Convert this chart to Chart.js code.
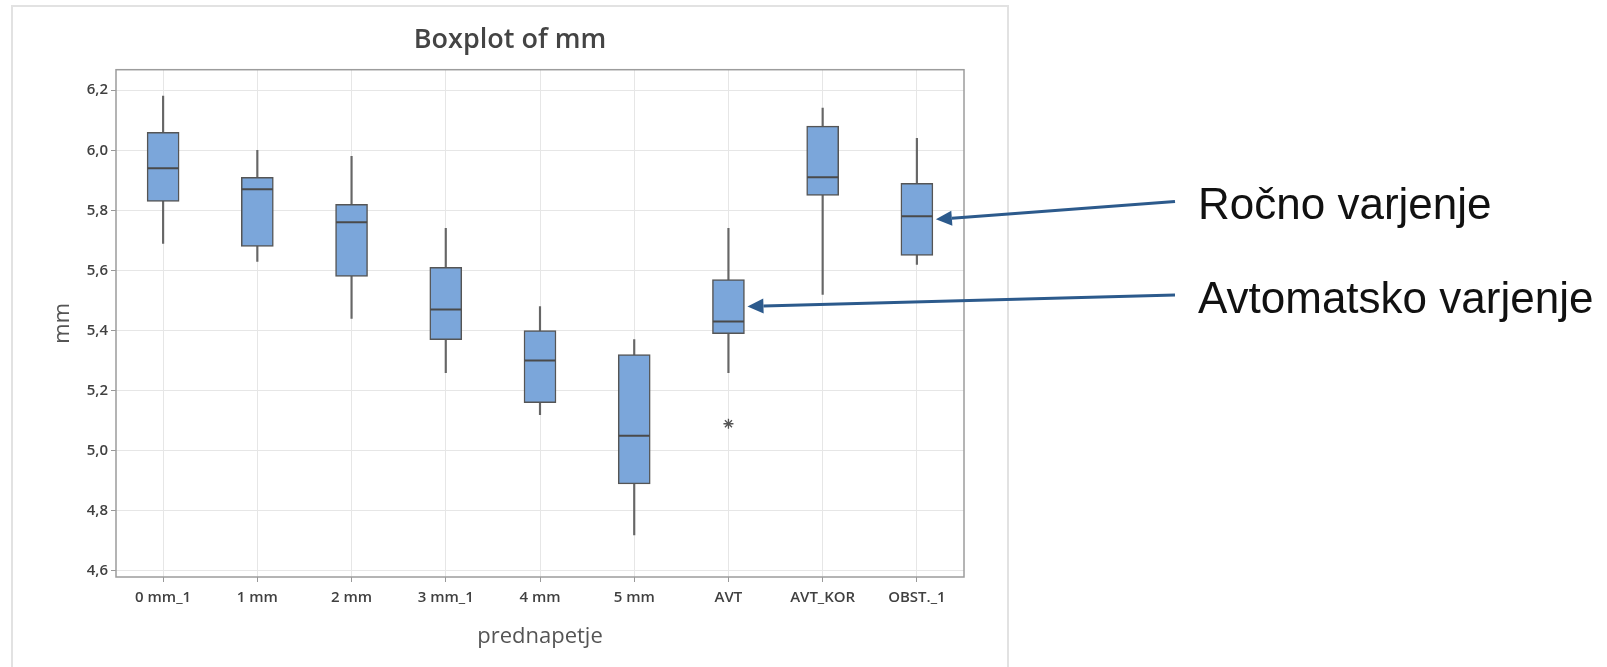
<!DOCTYPE html>
<html>
<head>
<meta charset="utf-8">
<title>Boxplot of mm</title>
<script src="https://cdn.jsdelivr.net/npm/chart.js@4.4.1/dist/chart.umd.min.js"></script>
<style>
  html, body { margin: 0; padding: 0; background: #fff; }
  canvas { display: block; }
</style>
</head>
<body>
<canvas id="boxplot" width="1607" height="667"></canvas>
<script>
// values
const categories = ['0 mm_1', '1 mm', '2 mm', '3 mm_1', '4 mm', '5 mm', 'AVT', 'AVT_KOR', 'OBST._1'];
const whiskerLow  = [5.69, 5.63, 5.44, 5.26, 5.12, 4.72, 5.26, 5.52, 5.62];
const q1          = [5.83, 5.68, 5.58, 5.37, 5.16, 4.89, 5.39, 5.85, 5.65];
const median      = [5.94, 5.87, 5.76, 5.47, 5.30, 5.05, 5.43, 5.91, 5.78];
const q3          = [6.06, 5.91, 5.82, 5.61, 5.40, 5.32, 5.57, 6.08, 5.89];
const whiskerHigh = [6.18, 6.00, 5.98, 5.74, 5.48, 5.37, 5.74, 6.14, 6.04];
const outliers    = [null, null, null, null, null, null, 5.09, null, null];
const yTicks = [4.6, 4.8, 5.0, 5.2, 5.4, 5.6, 5.8, 6.0, 6.2];

// side notes with arrows pointing at a box
const noteLabels  = ['Ročno varjenje', 'Avtomatsko varjenje'];
const noteTargets = ['OBST._1', 'AVT'];

const boxFill = '#7BA6DA';
const boxLine = '#555555';
const arrowBlue = '#2C5A8C';
const BOX_W = 32;

const tickFont = { family: "'Open Sans', sans-serif", size: 15, weight: '600' };
const titleFont = { family: "'Open Sans', sans-serif", size: 22 };

// light outer frame + plot frame
const frames = {
  id: 'frames',
  beforeDraw(chart) {
    const ctx = chart.ctx;
    ctx.save();
    ctx.fillStyle = '#fff';
    ctx.fillRect(0, 0, chart.width, chart.height);
    ctx.strokeStyle = '#e2e2e2';
    ctx.lineWidth = 2;
    ctx.strokeRect(12, 6, 996, 700);
    ctx.restore();
  },
  afterDatasetsDraw(chart) {
    const { ctx, chartArea: a } = chart;
    ctx.save();
    ctx.strokeStyle = '#9c9c9c';
    ctx.lineWidth = 1.5;
    ctx.strokeRect(a.left, a.top, a.right - a.left, a.bottom - a.top);
    ctx.restore();
  }
};

// arrows + labels on the right
const notes = {
  id: 'notes',
  afterDraw(chart) {
    const ctx = chart.ctx;
    const xs = chart.scales.x, ys = chart.scales.y;
    const tails = [[1175, 201.5], [1175, 295]];
    const baselines = [219, 312.5];
    ctx.save();
    noteLabels.forEach((label, i) => {
      const idx = categories.indexOf(noteTargets[i]);
      const tipX = xs.getPixelForValue(idx) + BOX_W / 2 + 3;
      const tipY = ys.getPixelForValue((q1[idx] + q3[idx]) / 2);
      const [tx, ty] = tails[i];
      const ang = Math.atan2(ty - tipY, tx - tipX);
      const headLen = 16, headHalf = 7.5;
      const bx = tipX + Math.cos(ang) * headLen, by = tipY + Math.sin(ang) * headLen;

      ctx.strokeStyle = arrowBlue;
      ctx.lineWidth = 3;
      ctx.beginPath();
      ctx.moveTo(tx, ty);
      ctx.lineTo(bx, by);
      ctx.stroke();

      ctx.fillStyle = arrowBlue;
      ctx.beginPath();
      ctx.moveTo(tipX, tipY);
      ctx.lineTo(bx - Math.sin(ang) * headHalf, by + Math.cos(ang) * headHalf);
      ctx.lineTo(bx + Math.sin(ang) * headHalf, by - Math.cos(ang) * headHalf);
      ctx.closePath();
      ctx.fill();

      ctx.fillStyle = '#111';
      ctx.font = "44px 'Liberation Sans', Arial, sans-serif";
      ctx.textBaseline = 'alphabetic';
      ctx.textAlign = 'left';
      ctx.fillText(label, 1198, baselines[i]);
    });
    ctx.restore();
  }
};

new Chart(document.getElementById('boxplot'), {
  type: 'bar',
  data: {
    labels: categories,
    datasets: [
      {
        label: 'median',
        type: 'line',
        data: median,
        showLine: false,
        pointStyle: 'line',
        pointRadius: BOX_W / 2 - 0.5,
        pointHoverRadius: BOX_W / 2 - 0.5,
        pointBorderWidth: 2,
        pointBorderColor: '#4a4a4a',
        order: 0
      },
      {
        label: 'outlier',
        type: 'line',
        data: outliers,
        showLine: false,
        pointStyle: 'star',
        pointRadius: 5,
        pointBorderWidth: 1.3,
        pointBorderColor: '#555',
        order: 0
      },
      {
        label: 'box',
        data: q1.map((v, i) => [v, q3[i]]),
        backgroundColor: boxFill,
        borderColor: boxLine,
        borderWidth: 1.5,
        borderSkipped: false,
        barThickness: BOX_W,
        grouped: false,
        order: 1
      },
      {
        label: 'whisker',
        data: whiskerLow.map((v, i) => [v, whiskerHigh[i]]),
        backgroundColor: '#666666',
        borderWidth: 0,
        barThickness: 1.5,
        grouped: false,
        order: 2
      }
    ]
  },
  options: {
    responsive: false,
    animation: false,
    layout: { padding: { left: 12, right: 599, top: 0, bottom: 0 } },
    plugins: {
      legend: { display: false },
      tooltip: { enabled: false },
      title: {
        display: true,
        text: 'Boxplot of mm',
        color: '#444',
        font: { family: "'Open Sans', sans-serif", size: 27, weight: '600' },
        padding: { top: 24, bottom: 13.3 }
      }
    },
    scales: {
      x: {
        grid: { offset: false, color: '#e6e6e6', tickColor: '#999', tickLength: 5 },
        border: { display: false },
        ticks: { color: '#404040', font: tickFont, padding: 7, maxRotation: 0 },
        title: { display: true, text: 'prednapetje', color: '#555', font: titleFont, padding: { top: 0, bottom: 17 } },
        afterFit(scale) { scale.height = 90; }
      },
      y: {
        min: 4.58,
        max: 6.268,
        grid: { color: '#e6e6e6', tickColor: '#999', tickLength: 5 },
        border: { display: false },
        ticks: {
          color: '#404040',
          font: tickFont,
          padding: 3,
          callback: v => v.toFixed(1).replace('.', ',')
        },
        afterBuildTicks(scale) { scale.ticks = yTicks.map(v => ({ value: v })); },
        title: { display: true, text: 'mm', color: '#555', font: titleFont, padding: { top: 38, bottom: 0 } },
        afterFit(scale) { scale.width = 104; }
      },
      yr: {
        position: 'right',
        type: 'linear',
        grid: { display: false },
        border: { display: false },
        ticks: { display: false },
        afterFit(scale) { scale.width = 44; }
      }
    }
  },
  plugins: [frames, notes]
});
</script>
</body>
</html>
